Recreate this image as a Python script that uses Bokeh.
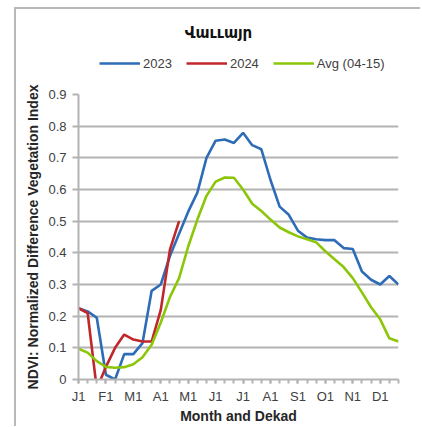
from bokeh.plotting import figure
from bokeh.layouts import column
from bokeh.models import Range1d, FixedTicker, Legend, LegendItem, Label
from bokeh.embed import file_html
from bokeh.resources import INLINE

title_text = "Վաււայր"
x_title = "Month and Dekad"
y_title = "NDVI: Normalized Difference Vegetation Index"

dekads = list(range(36))
month_labels = ["J1", "F1", "M1", "A1", "M1", "J1", "J1", "A1", "S1", "O1", "N1", "D1"]
y_labels = ["0", "0.1", "0.2", "0.3", "0.4", "0.5", "0.6", "0.7", "0.8", "0.9"]

ndvi_2023 = [0.225, 0.215, 0.195, 0.015, 0.0, 0.08, 0.08, 0.115, 0.28, 0.30,
             0.39, 0.46, 0.53, 0.59, 0.70, 0.754, 0.758, 0.747, 0.779, 0.74,
             0.727, 0.63, 0.546, 0.52, 0.47, 0.448, 0.443, 0.44, 0.44, 0.415,
             0.412, 0.341, 0.315, 0.30, 0.327, 0.30]
ndvi_2024 = [0.225, 0.21, -0.03, 0.04, 0.10, 0.142, 0.126, 0.12, 0.12, 0.22,
             0.41, 0.50]
ndvi_avg = [0.097, 0.085, 0.058, 0.040, 0.037, 0.039, 0.048, 0.07, 0.11, 0.18,
            0.26, 0.32, 0.42, 0.505, 0.58, 0.625, 0.638, 0.637, 0.60, 0.555,
            0.532, 0.505, 0.48, 0.465, 0.452, 0.443, 0.433, 0.405, 0.38, 0.355,
            0.32, 0.275, 0.228, 0.19, 0.13, 0.12]
series_names = ["2023", "2024", "Avg (04-15)"]
series_colors = ["#2e6cb8", "#c0272b", "#8cc608"]

GRID = "#b3b3b3"
FONT = "Liberation Sans"
W = 404
H_HEAD = 72
H_MAIN = 345
FRAME_W = 320

# ---------- header: title + legend (its frame is aligned with the chart frame) ----------
head = figure(width=W, height=H_HEAD, output_backend="svg", toolbar_location=None,
              x_range=Range1d(0, FRAME_W), y_range=Range1d(0, H_HEAD),
              min_border_left=62, min_border_right=22, min_border_top=0,
              min_border_bottom=0, x_axis_type=None, y_axis_type=None)
head.outline_line_color = None
head.grid.grid_line_color = None
head.background_fill_color = "white"
head.border_fill_color = "white"

head.add_layout(Label(x=140, y=H_HEAD - 23, text=title_text,
                      text_align="center", text_baseline="middle",
                      text_font="DejaVu Sans", text_font_style="bold",
                      text_font_size="15px", text_color="#111111"))

nan = float("nan")
proxies = [head.line([nan], [nan], line_color=c, line_width=2.6) for c in series_colors]
legend = Legend(items=[LegendItem(label=n, renderers=[r]) for n, r in zip(series_names, proxies)],
                location=(21, 10), orientation="horizontal",
                glyph_width=41, glyph_height=16, label_standoff=3, spacing=14,
                padding=0, margin=0, border_line_color=None,
                background_fill_alpha=0,
                label_text_font=FONT, label_text_font_size="13px",
                label_text_color="#404040", label_height=16)
head.add_layout(legend, "center")

# ---------- main chart ----------
p = figure(width=W, height=H_MAIN, output_backend="svg", toolbar_location=None,
           x_range=Range1d(0, 35), y_range=Range1d(0, 0.9),
           min_border_left=62, min_border_right=22, min_border_top=13,
           min_border_bottom=46)
p.outline_line_color = None
p.background_fill_color = "white"
p.border_fill_color = "white"

p.line(dekads, ndvi_2023, line_color=series_colors[0], line_width=2.6)
p.line(dekads[:len(ndvi_2024)], ndvi_2024, line_color=series_colors[1], line_width=2.6)
p.line(dekads, ndvi_avg, line_color=series_colors[2], line_width=2.6)

xa = p.xaxis[0]
xa.ticker = FixedTicker(ticks=list(range(0, 36, 3)), minor_ticks=dekads)
xa.major_label_overrides = {i * 3: lab for i, lab in enumerate(month_labels)}
xa.axis_line_color = GRID
xa.axis_line_width = 2
xa.major_tick_line_color = GRID
xa.minor_tick_line_color = GRID
xa.major_tick_line_width = 2
xa.minor_tick_line_width = 2
xa.major_tick_in = 0
xa.major_tick_out = 4
xa.minor_tick_in = 0
xa.minor_tick_out = 4
xa.major_label_standoff = 5
xa.major_label_text_font = FONT
xa.major_label_text_font_size = "13px"
xa.major_label_text_color = "#404040"
xa.axis_label = x_title
xa.axis_label_text_font = FONT
xa.axis_label_text_font_size = "14px"
xa.axis_label_text_font_style = "bold"
xa.axis_label_text_color = "#262626"
xa.axis_label_standoff = 1

ya = p.yaxis[0]
ya.ticker = FixedTicker(ticks=[i / 10 for i in range(10)], minor_ticks=[])
ya.major_label_overrides = {i / 10: lab for i, lab in enumerate(y_labels)}
ya.axis_line_color = GRID
ya.axis_line_width = 2
ya.major_tick_line_color = GRID
ya.major_tick_line_width = 2
ya.major_tick_in = 0
ya.major_tick_out = 6
ya.minor_tick_line_color = None
ya.major_label_standoff = 6
ya.major_label_text_font = FONT
ya.major_label_text_font_size = "13px"
ya.major_label_text_color = "#404040"
ya.axis_label = y_title
ya.axis_label_text_font = FONT
ya.axis_label_text_font_size = "14px"
ya.axis_label_text_font_style = "bold"
ya.axis_label_text_color = "#262626"
ya.axis_label_standoff = 4

p.xgrid.grid_line_color = None
p.ygrid.grid_line_color = GRID
p.ygrid.grid_line_width = 2

layout = column(head, p, spacing=0)
layout.styles = {"border-left": "2px solid #b8b8b8", "border-top": "2px solid #b8b8b8",
                 "margin-left": "14px", "margin-top": "7px"}

open("out.html", "w").write(file_html(layout, INLINE))
